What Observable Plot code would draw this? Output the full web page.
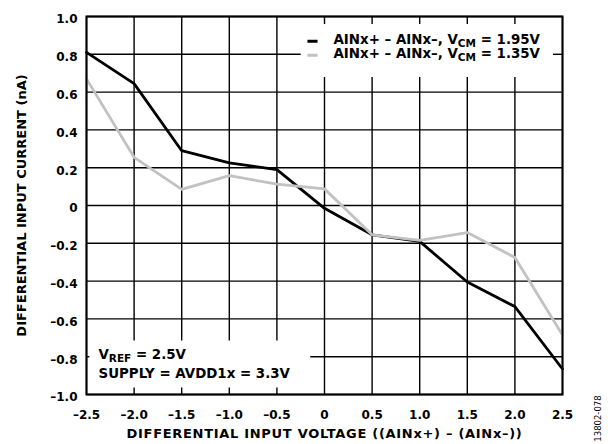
<!DOCTYPE html>
<html>
<head>
<meta charset="utf-8">
<script src="https://cdn.jsdelivr.net/npm/d3@7"></script>
<script src="https://cdn.jsdelivr.net/npm/@observablehq/plot@0.6"></script>
<style>
  html, body { margin: 0; padding: 0; background: #fff; }
  #chart svg { display: block; }
  .xtitle text { letter-spacing: 0.7px; }
</style>
</head>
<body>
<div id="chart"></div>
<script>
// ---- data ----
const xVals   = [-2.5, -2.0, -1.5, -1.0, -0.5, 0, 0.5, 1.0, 1.5, 2.0, 2.5];
const vcm195  = [0.81, 0.645, 0.29, 0.225, 0.19, -0.015, -0.155, -0.19, -0.405, -0.535, -0.865];
const vcm135  = [0.67, 0.255, 0.085, 0.158, 0.113, 0.088, -0.155, -0.185, -0.143, -0.275, -0.685];
const seriesNames = ["AINx+ – AINx–, V_{CM} = 1.95V", "AINx+ – AINx–, V_{CM} = 1.35V"];
const seriesColors = ["#000000", "#c2c2c2"];
const gridColor = "#000000";
const xTicks = [-2.5, -2.0, -1.5, -1.0, -0.5, 0, 0.5, 1.0, 1.5, 2.0, 2.5];
const yTicks = [-1.0, -0.8, -0.6, -0.4, -0.2, 0, 0.2, 0.4, 0.6, 0.8, 1.0];
const noteLines = ["V_{REF} = 2.5V", "SUPPLY = AVDD1x = 3.3V"];
const xTitle = "DIFFERENTIAL INPUT VOLTAGE ((AINx+) – (AINx–))";
const yTitle = "DIFFERENTIAL INPUT CURRENT (nA)";
const figCode = "13802-078";

// ---- annotation placement (data units) ----
const legendBox = {x1: -0.25, x2: 2.40, y1: 0.68, y2: 0.96};
const legendRowsY = [0.869, 0.795];
const legendTextY = [0.879, 0.804];
const legendSwatch = {x1: -0.174, x2: -0.068};
const legendTextX = 0.094;
const noteBox = {x1: -2.47, x2: -0.15, y1: -0.963, y2: -0.714};
const noteX = -2.374;
const noteY = [-0.788, -0.889];

const rows = xVals.map((x, i) => ({x, y: vcm195[i]}));
const rows2 = xVals.map((x, i) => ({x, y: vcm135[i]}));
const fmt = d => d === 0 ? "0" : d.toFixed(1).replace("-", "\u2013");
const FONT = "'DejaVu Sans', sans-serif";
const FS = 13.4, SUB = 10.5, SUBDY = 4;

// grid segments that stop at the legend and note boxes
const boxes = [legendBox, noteBox];
function cut(lo, hi, holes) {
  let segs = [[lo, hi]];
  holes.forEach(([a, b]) => {
    segs = segs.flatMap(([s, e]) => (b <= s || a >= e) ? [[s, e]] : [[s, a], [b, e]].filter(([p, q]) => q > p));
  });
  return segs;
}
const vGrid = xTicks.flatMap(x =>
  cut(-1, 1, boxes.filter(b => x > b.x1 && x < b.x2).map(b => [b.y1, b.y2])).map(([y1, y2]) => ({x1: x, x2: x, y1, y2, c: gridColor})));
const hGrid = yTicks.flatMap(y =>
  cut(-2.5, 2.5, boxes.filter(b => y > b.y1 && y < b.y2).map(b => [b.x1, b.x2])).map(([x1, x2]) => ({x1, x2, y1: y, y2: y, c: gridColor})));

// split "_{...}" subscripts into separately placed text segments
const ctx = document.createElement("canvas").getContext("2d");
const measure = (s, size) => { ctx.font = `bold ${size}px 'DejaVu Sans'`; return ctx.measureText(s).width; };
function segments(label, x, y) {
  let off = 0;
  return label.split(/(_\{[^}]*\})/).filter(p => p).map(p => {
    const sub = p.startsWith("_{");
    const t = sub ? p.slice(2, -1) : p;
    const seg = {t, x, y, off, sub};
    off += measure(t, sub ? SUB : FS);
    return seg;
  });
}
const textSegs = [
  ...seriesNames.flatMap((n, i) => segments(n, legendTextX, legendTextY[i])),
  ...noteLines.flatMap((n, i) => segments(n, noteX, noteY[i]))
];
const segMarks = textSegs.map(s => Plot.text([s], {
  x: "x", y: "y", text: "t", dx: s.off, dy: s.sub ? SUBDY : 0,
  textAnchor: "start", lineAnchor: "middle",
  fontSize: s.sub ? SUB : FS, fontWeight: "bold", fill: "#000"
}));

const legendData = seriesNames.map((name, i) => ({name, color: seriesColors[i], y: legendRowsY[i]}));

const chart = Plot.plot({
  width: 613, height: 444, marginTop: 16, marginBottom: 50, marginLeft: 86, marginRight: 51,
  style: {fontFamily: FONT, fontWeight: "bold", fontSize: "12px", background: "#fff", color: "#000"},
  x: {domain: [-2.5, 2.5]},
  y: {domain: [-1, 1]},
  color: {type: "identity"},
  marks: [
    Plot.axisX(xTicks, {tickSize: 0, tickPadding: 16, tickFormat: fmt, label: null, fontSize: 12, fontWeight: "bold"}),
    Plot.axisY(yTicks, {tickSize: 0, tickPadding: 9, tickFormat: fmt, label: null, fontSize: 12, fontWeight: "bold", dy: 3}),
    Plot.link(vGrid, {x1: "x1", x2: "x2", y1: "y1", y2: "y2", stroke: "c", strokeWidth: 1.4}),
    Plot.link(hGrid, {x1: "x1", x2: "x2", y1: "y1", y2: "y2", stroke: "c", strokeWidth: 1.4}),
    Plot.line(rows, {x: "x", y: "y", stroke: seriesColors[0], strokeWidth: 2.8}),
    Plot.line(rows2, {x: "x", y: "y", stroke: seriesColors[1], strokeWidth: 2.8}),
    Plot.frame({stroke: "#000", strokeWidth: 2}),
    Plot.ruleY(legendData, {y: "y", x1: legendSwatch.x1, x2: legendSwatch.x2, stroke: "color", strokeWidth: 3}),
    ...segMarks,
    Plot.text([xTitle], {frameAnchor: "bottom", dy: 39, textAnchor: "middle", lineAnchor: "middle", fontSize: 13, fontWeight: "bold", fill: "#000", className: "xtitle"}),
    Plot.text([yTitle], {frameAnchor: "left", dx: -65, rotate: -90, textAnchor: "middle", lineAnchor: "middle", fontSize: 13, fontWeight: "bold", fill: "#000"}),
    Plot.text([figCode], {frameAnchor: "bottom-right", dx: 36, dy: 24, rotate: -90, textAnchor: "middle", lineAnchor: "middle", fontSize: 8.5, fontWeight: "normal", fill: "#000"})
  ]
});
document.getElementById("chart").appendChild(chart);
</script>
</body>
</html>
